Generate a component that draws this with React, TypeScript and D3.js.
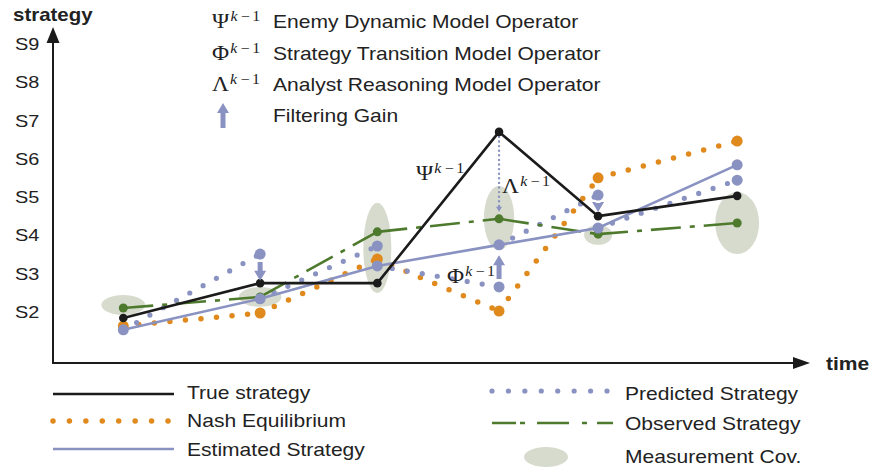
import React from 'react';
import * as d3 from 'd3';

// time stamps of the six filter steps and the strategy levels at each step
const times = [0.93, 2.74, 4.29, 5.9, 7.21, 9.05];
const trueStrategy = [1.87, 2.78, 2.78, 6.73, 4.53, 5.06];
const estimated = [1.56, 2.37, 3.23, 3.78, 4.22, 5.87];
const observed = [2.13, 2.42, 4.12, 4.46, 4.06, 4.35];
const predicted = [null, 3.54, 3.75, 2.68, 5.08, 5.47];
const nash = [1.66, 2.0, 3.41, 2.05, 5.53, 6.49];
const gainTip = [null, 2.84, null, 3.51, 4.64, null];

// measurement covariance ellipses (centre in strategy units, radii in data units)
const covCenter = [2.21, 2.42, 3.7, 4.48, 4.04, 4.35];
const covRx = [0.29, 0.28, 0.185, 0.2, 0.185, 0.29];
const covRy = [0.26, 0.26, 1.18, 0.84, 0.26, 0.81];

const strategyTicks = [2, 3, 4, 5, 6, 7, 8, 9];
const strategyLabels = ['S2', 'S3', 'S4', 'S5', 'S6', 'S7', 'S8', 'S9'];

// operator annotations placed in data space
const operatorNotes = [
  { sym: 'Ψ', t: 4.8, s: 5.47 },
  { sym: 'Λ', t: 5.94, s: 5.13 },
  { sym: 'Φ', t: 5.21, s: 2.78 },
];

const operatorLegend = [
  { sym: 'Ψ', text: 'Enemy Dynamic Model Operator' },
  { sym: 'Φ', text: 'Strategy Transition Model Operator' },
  { sym: 'Λ', text: 'Analyst Reasoning Model Operator' },
];

const BLACK = '#1b1b1b';
const ORANGE = '#e08a1e';
const BLUE = '#8a92c2';
const GREEN = '#4e7a2d';
const COV = '#d6dbcd';
const TEXT = '#222';
const SANS = '"Liberation Sans", Arial, Helvetica, sans-serif';
const SERIF = '"Liberation Serif", "Times New Roman", serif';
const SX = 1.17; // glyphs in the original are drawn horizontally wide

const W = 884;
const H = 472;
const x = d3.scaleLinear().domain([0, 10]).range([53, 809]);
const y = d3.scaleLinear().domain([2, 9]).range([313, 45]);

type P = [number, number];
const line = d3.line<P>().x(d => d[0]).y(d => d[1]);

const Txt = ({ x: tx, y: ty, size, weight, family, children }: any) => (
  <text
    transform={`translate(${tx},${ty}) scale(${SX},1)`}
    fontSize={size}
    fontWeight={weight || 'normal'}
    fontFamily={family || SANS}
    fill={TEXT}
  >
    {children}
  </text>
);

const Op = ({ x: tx, y: ty, sym, size }: any) => (
  <text
    transform={`translate(${tx},${ty}) scale(${SX},1)`}
    fontFamily={SERIF}
    fill={TEXT}
    fontSize={size}
  >
    <tspan>{sym}</tspan>
    <tspan fontSize={size * 0.68} fontStyle="italic" dy={-7} dx={1}>k</tspan>
    <tspan fontSize={size * 0.68} dx={3}>−</tspan>
    <tspan fontSize={size * 0.68} dx={2}>1</tspan>
  </text>
);

const gainArrow = (px: number, y0: number, y1: number) => {
  const dir = y1 > y0 ? 1 : -1;
  const hb = y1 - dir * 10;
  return [
    [px - 2.5, y0], [px + 2.5, y0], [px + 2.5, hb], [px + 6, hb],
    [px, y1], [px - 6, hb], [px - 2.5, hb],
  ].map(p => p.join(',')).join(' ');
};

export default function App() {
  const dots = (a: P, b: P, color: string, gap: number, w: number, key: string) => (
    <path key={key} d={line([a, b])!} fill="none" stroke={color} strokeWidth={w}
      strokeLinecap="round" strokeDasharray={`0 ${gap}`} />
  );

  const pts = (vals: (number | null)[]) => vals.map((v, i) => [x(times[i]), v == null ? NaN : y(v)] as P);
  const trueP = pts(trueStrategy);
  const estP = pts(estimated);
  const obsP = pts(observed);
  const predP = pts(predicted);
  const nashP = pts(nash);

  const lx = x(times[3]);
  const lTop = y(trueStrategy[3]) + 5;
  const lBot = y(observed[3]) - 7;

  return (
    <svg width={W} height={H} style={{ position: 'absolute', left: 0, top: 0, background: '#fff' }}>
      {/* covariance ellipses */}
      {times.map((t, i) => (
        <ellipse key={`c${i}`} cx={x(t)} cy={y(covCenter[i])}
          rx={x(covRx[i]) - x(0)} ry={y(0) - y(covRy[i])} fill={COV} />
      ))}

      {/* Nash equilibrium */}
      {nashP.slice(1).map((p, i) => dots(nashP[i], p, ORANGE, 15.6, 5.5, `n${i}`))}

      {/* predicted strategy: from previous estimate to prediction */}
      {predP.slice(1).map((p, i) => dots(estP[i], p, BLUE, 15.2, 5.2, `p${i}`))}

      {/* observed strategy */}
      {obsP.slice(1).map((p, i) => (
        <path key={`o${i}`} d={line([obsP[i], p])!} fill="none" stroke={GREEN}
          strokeWidth={2.6} strokeDasharray="30 9 5 9" />
      ))}

      {/* estimated strategy */}
      <path d={line(estP)!} fill="none" stroke={BLUE} strokeWidth={2.6} />

      {/* true strategy */}
      <path d={line(trueP)!} fill="none" stroke={BLACK} strokeWidth={2.6} strokeLinejoin="round" />

      {/* analyst reasoning link */}
      <path d={line([[lx, lTop], [lx, lBot - 4]])!} fill="none" stroke={BLUE} strokeWidth={2.4}
        strokeLinecap="round" strokeDasharray="0 4.6" />
      <polygon points={`${lx - 3},${lBot - 5} ${lx + 3},${lBot - 5} ${lx},${lBot}`} fill={BLUE} />

      {/* markers */}
      {nashP.map((p, i) => <circle key={`nd${i}`} cx={p[0]} cy={p[1]} r={5.5} fill={ORANGE} />)}
      {predP.map((p, i) => predicted[i] == null ? null :
        <circle key={`pd${i}`} cx={p[0]} cy={p[1]} r={5.5} fill={BLUE} />)}
      {obsP.map((p, i) => <circle key={`od${i}`} cx={p[0]} cy={p[1]} r={4.5} fill={GREEN} />)}
      {estP.map((p, i) => <circle key={`ed${i}`} cx={p[0]} cy={p[1]} r={5.5} fill={BLUE} />)}
      {trueP.map((p, i) => <circle key={`td${i}`} cx={p[0]} cy={p[1]} r={4.3} fill={BLACK} />)}

      {/* filtering gain arrows */}
      {gainTip.map((g, i) => {
        if (g == null) return null;
        const y0 = y(predicted[i]!);
        const y1 = y(g);
        const dir = y1 > y0 ? 1 : -1;
        return <polygon key={`g${i}`} points={gainArrow(x(times[i]), y0 + dir * 8, y1)} fill={BLUE} />;
      })}

      {/* operator annotations */}
      {operatorNotes.map(o => (
        <Op key={o.sym} x={x(o.t)} y={y(o.s)} sym={o.sym} size={20} />
      ))}

      {/* axes */}
      <line x1={53} y1={363} x2={53} y2={40} stroke={BLACK} strokeWidth={2} />
      <polygon points="46.5,43 59.5,43 53,27" fill={BLACK} />
      <line x1={52} y1={363} x2={796} y2={363} stroke={BLACK} strokeWidth={2} />
      <polygon points="793,357 793,369 810,363" fill={BLACK} />
      {strategyTicks.map((s, i) => (
        <Txt key={s} x={15} y={y(s) + 5} size={17}>{strategyLabels[i]}</Txt>
      ))}
      <Txt x={13} y={21} size={17.5} weight="bold">strategy</Txt>
      <Txt x={826} y={370} size={18} weight="bold">time</Txt>

      {/* operator legend */}
      {operatorLegend.map((o, i) => (
        <g key={o.sym}>
          <Op x={212} y={28 + i * 31.7} sym={o.sym} size={20} />
          <Txt x={273} y={28 + i * 31.7} size={18}>{o.text}</Txt>
        </g>
      ))}
      <polygon points={gainArrow(223, 128, 103)} fill={BLUE} />
      <Txt x={273} y={122} size={18}>Filtering Gain</Txt>

      {/* series legend */}
      <line x1={53} y1={394} x2={174} y2={394} stroke={BLACK} strokeWidth={2.6} />
      <Txt x={187} y={399} size={18}>True strategy</Txt>
      {dots([53, 421], [168.5, 421], ORANGE, 16.43, 5.5, 'ln')}
      <Txt x={187} y={427} size={18}>Nash Equilibrium</Txt>
      <line x1={53} y1={449} x2={174} y2={449} stroke={BLUE} strokeWidth={2.6} />
      <Txt x={187} y={456} size={18}>Estimated Strategy</Txt>

      {dots([492, 391], [607.5, 391], BLUE, 16.43, 5.2, 'lp')}
      <Txt x={625} y={400} size={18}>Predicted Strategy</Txt>
      <line x1={492} y1={423} x2={613} y2={423} stroke={GREEN} strokeWidth={2.6}
        strokeDasharray="24 4 5 12 32 13 5 10 16" />
      <Txt x={625} y={430} size={18}>Observed Strategy</Txt>
      <ellipse cx={546} cy={457} rx={22} ry={10} fill={COV} />
      <Txt x={625} y={463} size={18}>Measurement Cov.</Txt>
    </svg>
  );
}
